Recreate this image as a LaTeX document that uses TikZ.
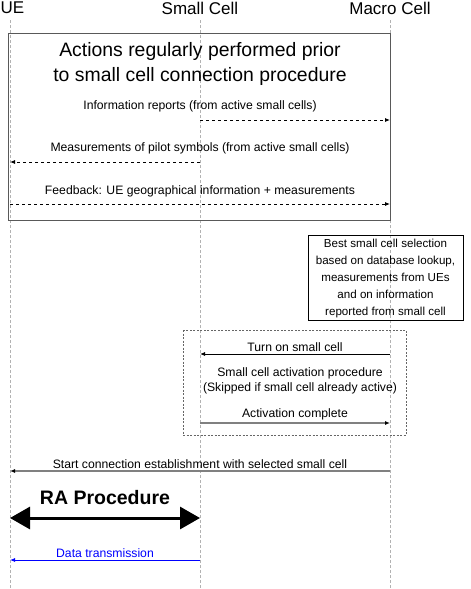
\documentclass[tikz,border=0pt]{standalone}
\usepackage{fontspec}
\setmainfont{Liberation Sans}
\usetikzlibrary{arrows.meta,positioning}

\tikzset{
  head/.style={font=\fontsize{17}{19}\selectfont, inner sep=0pt},
  lbl/.style={font=\fontsize{12.2}{14.5}\selectfont, align=center, inner sep=2pt},
  life/.style={gray!60, dashed, dash pattern=on 3pt off 2pt, line width=0.6pt},
  msg/.style={-{Latex[length=5pt,width=4pt,color=black]}, line width=0.8pt},
  frame/.style={draw=black!65, line width=1pt},
}

\begin{document}
\begin{tikzpicture}[x=1pt,y=-1pt]
  \useasboundingbox (0,0) rectangle (471,589);
  % participants
  \node[head, anchor=west] (ue) at (0.5,8) {UE};
  \node[head] (sc) at (200,8) {Small Cell};
  \node[head] (mc) at (390,8) {Macro Cell};
  \foreach \p/\x in {ue/10,sc/200,mc/390} {
    \coordinate (\p0) at (\x,20);
    \coordinate (\p9) at (\x,589);
    \draw[life] (\p0) -- (\p9);
  }
  % message rows
  \foreach \r/\y in {1/120,2/162,3/204,4/354,5/423,6/471,7/518,8/560} {
    \coordinate (ue\r) at (10,\y);
    \coordinate (sc\r) at (200,\y);
    \coordinate (mc\r) at (390,\y);
  }

  % regular actions
  \draw[frame] (8,33) rectangle (390,220);
  \node[font=\fontsize{19.4}{25}\selectfont, align=center] (ttl) at (200,64)
    {Actions regularly performed prior\\to small cell connection procedure};
  \draw[msg,dashed] (sc1) -- (mc1);
  \node[lbl, above=6pt of sc1] (info) {Information reports (from active small cells)};
  \draw[msg,dashed] (sc2) -- (ue2);
  \node[lbl, above=6pt of sc2] (meas) {Measurements of pilot symbols (from active small cells)};
  \draw[msg,dashed] (ue3) -- (mc3);
  \node[lbl, above=5pt of sc3] (fb) {Feedback: UE geographical information + measurements};

  % selection at macro cell
  \node[draw, line width=0.8pt, lbl, font=\fontsize{11.6}{17}\selectfont,
    minimum width=155pt, minimum height=85pt] (sel) at (385.5,278)
    {Best small cell selection\\based on database lookup,\\measurements from UEs\\and on information\\reported from small cell};

  % activation
  \draw[black!60, line width=1pt, dash pattern=on 2pt off 1.5pt] (183,330) rectangle (406,435);
  \draw[msg] (mc4) -- node[lbl, above] {Turn on small cell} (sc4);
  \node[lbl] (act) at (300,381) {Small cell activation procedure\\(Skipped if small cell already active)};
  \draw[msg, gray, line width=1.2pt] (sc5) -- node[lbl, above, black] {Activation complete} (mc5);

  % connection
  \draw[msg, gray, line width=1.4pt] (mc6) -- node[lbl, above, black] {Start connection establishment with selected small cell} (ue6);
  \draw[line width=3pt, {Triangle[length=20pt,width=22pt]}-{Triangle[length=20pt,width=22pt]}]
    (ue7) -- node[above=8pt, font=\fontsize{19.5}{22}\selectfont\bfseries] {RA Procedure} (sc7);
  \draw[msg, blue, -{Latex[length=5pt,width=4pt]}] (sc8) -- node[lbl, above, blue] {Data transmission} (ue8);
\end{tikzpicture}
\end{document}
